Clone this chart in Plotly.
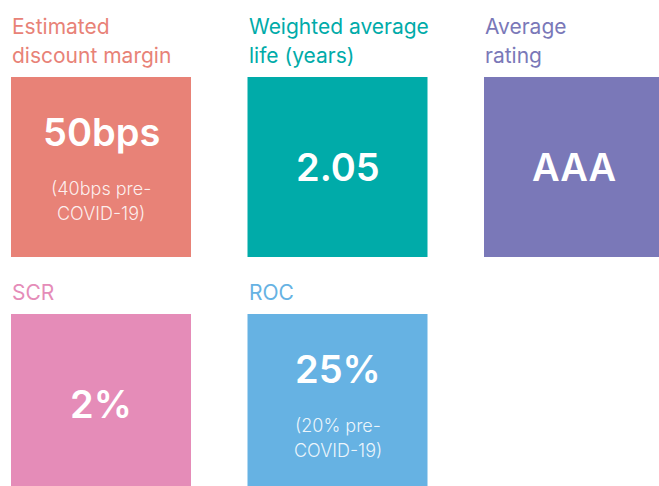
import plotly.graph_objects as go

# ---- data ----
titles = ["Estimated<br>discount margin", "Weighted average<br>life (years)", "Average<br>rating", "SCR", "ROC"]
values = ["50bps", "2.05", "AAA", "2%", "25%"]
notes = ["(40bps pre-<br>COVID-19)", "", "", "", "(20% pre-<br>COVID-19)"]
colors = ["#E88277", "#00ABA9", "#7A78B8", "#E58CB8", "#66B2E3"]
grid_rows = [0, 0, 0, 1, 1]
grid_cols = [0, 1, 2, 0, 1]

# ---- layout geometry ----
W, H = 659, 486
left0, top0 = 11, 77
col_pitch, row_pitch = 236.5, 237
tile = 180
title_gap = 21.5     # from box top to cap-centre of last title line
title_pitch = 29
note_pitch = 25
FONT = "Inter"

fig = go.Figure()
fig.add_trace(go.Scatter(x=[0, W], y=[0, H], mode="markers", marker=dict(opacity=0), hoverinfo="skip", showlegend=False))

shapes, anns = [], []
for t, v, n, c, r, k in zip(titles, values, notes, colors, grid_rows, grid_cols):
    x0 = left0 + k * col_pitch
    y0 = top0 + r * row_pitch
    xc = x0 + tile / 2
    shapes.append(dict(type="rect", xref="x", yref="y", x0=x0, x1=x0 + tile, y0=y0, y1=y0 + tile,
                       fillcolor=c, line=dict(width=0), layer="below"))
    lines = t.split("<br>")
    for i, ln in enumerate(lines):
        yy = y0 - title_gap - (len(lines) - 1 - i) * title_pitch
        anns.append(dict(x=x0 - 1, y=yy, xref="x", yref="y", text=ln, showarrow=False,
                         xanchor="left", yanchor="middle",
                         font=dict(family=FONT, size=21, color=c)))
    if n:
        vy = y0 + 55
        nlines = n.split("<br>")
        for i, ln in enumerate(nlines):
            anns.append(dict(x=xc, y=y0 + 111 + i * note_pitch, xref="x", yref="y", text=ln,
                             showarrow=False, xanchor="center", yanchor="middle",
                             font=dict(family=FONT, size=18, weight=300, color="rgba(255,255,255,0.88)")))
    else:
        vy = y0 + 90
    anns.append(dict(x=xc, y=vy, xref="x", yref="y", text=v, showarrow=False,
                     xanchor="center", yanchor="middle",
                     font=dict(family=FONT, size=38, weight=600, color="white")))

fig.update_layout(
    width=W, height=H, margin=dict(l=0, r=0, t=0, b=0),
    paper_bgcolor="white", plot_bgcolor="white",
    xaxis=dict(range=[0, W], visible=False, fixedrange=True),
    yaxis=dict(range=[H, 0], visible=False, fixedrange=True),
    shapes=shapes, annotations=anns, showlegend=False,
)
fig.write_html("out.html", config={"displayModeBar": False},
               post_script="document.body.style.margin='0';document.body.style.overflow='hidden';")
